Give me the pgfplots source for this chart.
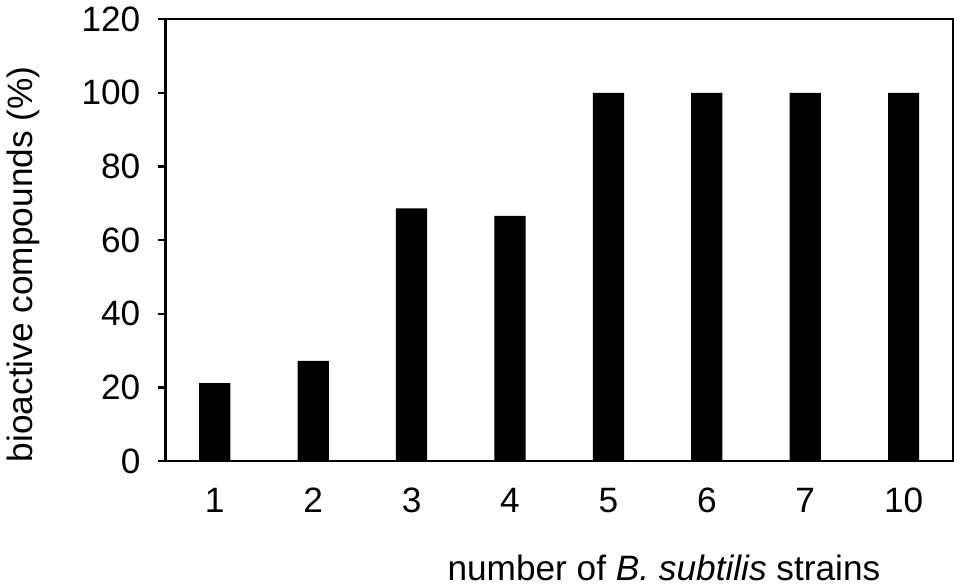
\documentclass[border=0pt]{standalone}
\usepackage{fontspec}
\setmainfont{Liberation Sans}
\usepackage{pgfplots}
\pgfplotsset{compat=1.18}
\begin{document}
\begin{tikzpicture}
\begin{axis}[
  scale only axis,
  width=391pt, height=219.5pt,
  xmin=-0.5, xmax=7.5,
  ymin=0, ymax=120,
  ytick={0,20,...,120},
  xtick={0,1,2,3,4,5,6,7},
  xticklabels={1,2,3,4,5,6,7,10},
  major x tick style={draw=none},
  ytick pos=left,
  tick align=outside,
  major tick length=4pt,
  major y tick style={line width=1.2pt, black},
  axis line style={line width=1.2pt},
  /pgf/number format/assume math mode=true,
  ticklabel style={font=\fontsize{17.5}{21}\selectfont},
  yticklabel style={xshift=-5pt},
  xticklabel style={yshift=-6pt},
  label style={font=\fontsize{17.5}{21}\selectfont},
  xlabel={number of \textit{B. subtilis} strains},
  xlabel style={xshift=52pt, yshift=-14pt},
  ylabel={bioactive compounds (\%)},
  ylabel style={yshift=14pt, xshift=-12pt},
  clip=false,
]
\addplot[ybar, bar width=15.5pt, fill=black, draw=none] coordinates {
  (0,21.2) (1,27.2) (2,68.6) (3,66.6) (4,100) (5,100) (6,100) (7,100)
};
\end{axis}
\end{tikzpicture}
\end{document}
